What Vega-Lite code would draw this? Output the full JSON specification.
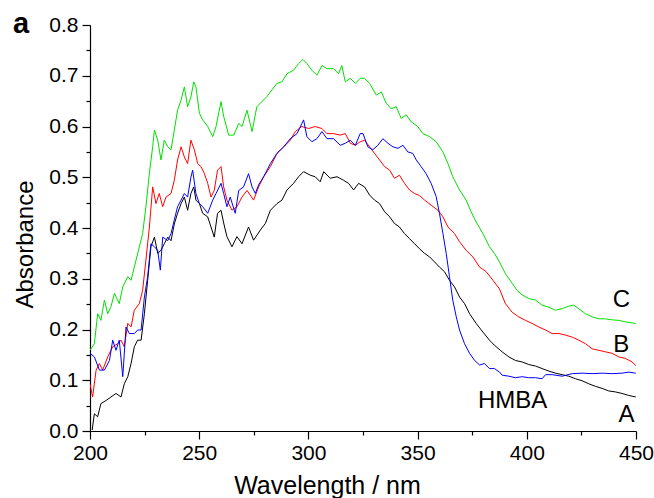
{
"$schema": "https://vega.github.io/schema/vega-lite/v6.json",
"width": 546, "height": 406,
"autosize": {"type": "none"},
"padding": {"left": 90, "top": 25, "right": 18, "bottom": 67},
"background": "white",
"config": {"view": {"stroke": null}, "font": "Liberation Sans"},
"title": {"text": "a", "anchor": "start", "frame": "group", "fontSize": 29, "fontWeight": "bold", "font": "Liberation Sans", "color": "#000", "baseline": "alphabetic", "dx": -77, "offset": -48},
"datasets": {
"spectra": [
{"s":"A","w":201.0,"a":0.002},{"s":"A","w":202.0,"a":0.034},{"s":"A","w":203.5,"a":0.028},{"s":"A","w":205.0,"a":0.054},{"s":"A","w":207.3,"a":0.060},{"s":"A","w":209.6,"a":0.067},{"s":"A","w":211.9,"a":0.074},{"s":"A","w":214.2,"a":0.067},{"s":"A","w":215.7,"a":0.093},{"s":"A","w":217.3,"a":0.107},{"s":"A","w":218.8,"a":0.133},{"s":"A","w":220.3,"a":0.166},{"s":"A","w":221.8,"a":0.179},{"s":"A","w":223.4,"a":0.179},{"s":"A","w":224.9,"a":0.231},{"s":"A","w":226.4,"a":0.297},{"s":"A","w":227.9,"a":0.363},{"s":"A","w":229.5,"a":0.382},{"s":"A","w":231.0,"a":0.350},{"s":"A","w":232.5,"a":0.356},{"s":"A","w":234.0,"a":0.369},{"s":"A","w":235.6,"a":0.382},{"s":"A","w":237.1,"a":0.375},{"s":"A","w":238.6,"a":0.408},{"s":"A","w":240.1,"a":0.429},{"s":"A","w":241.7,"a":0.448},{"s":"A","w":243.2,"a":0.461},{"s":"A","w":244.7,"a":0.435},{"s":"A","w":246.2,"a":0.468},{"s":"A","w":247.5,"a":0.481},{"s":"A","w":248.5,"a":0.455},{"s":"A","w":250.1,"a":0.448},{"s":"A","w":251.6,"a":0.429},{"s":"A","w":253.9,"a":0.422},{"s":"A","w":255.4,"a":0.402},{"s":"A","w":256.9,"a":0.382},{"s":"A","w":258.4,"a":0.429},{"s":"A","w":260.0,"a":0.435},{"s":"A","w":261.2,"a":0.410},{"s":"A","w":262.7,"a":0.383},{"s":"A","w":265.0,"a":0.363},{"s":"A","w":267.3,"a":0.383},{"s":"A","w":269.6,"a":0.369},{"s":"A","w":272.6,"a":0.402},{"s":"A","w":274.9,"a":0.376},{"s":"A","w":278.0,"a":0.396},{"s":"A","w":280.3,"a":0.409},{"s":"A","w":282.6,"a":0.435},{"s":"A","w":285.6,"a":0.448},{"s":"A","w":287.9,"a":0.455},{"s":"A","w":290.2,"a":0.475},{"s":"A","w":293.2,"a":0.488},{"s":"A","w":295.5,"a":0.501},{"s":"A","w":297.8,"a":0.511},{"s":"A","w":300.9,"a":0.504},{"s":"A","w":303.1,"a":0.501},{"s":"A","w":305.4,"a":0.491},{"s":"A","w":307.0,"a":0.511},{"s":"A","w":310.0,"a":0.498},{"s":"A","w":313.1,"a":0.501},{"s":"A","w":316.1,"a":0.494},{"s":"A","w":318.4,"a":0.488},{"s":"A","w":320.7,"a":0.475},{"s":"A","w":323.0,"a":0.488},{"s":"A","w":325.7,"a":0.481},{"s":"A","w":328.0,"a":0.465},{"s":"A","w":330.3,"a":0.455},{"s":"A","w":332.6,"a":0.448},{"s":"A","w":334.9,"a":0.432},{"s":"A","w":337.2,"a":0.422},{"s":"A","w":339.4,"a":0.409},{"s":"A","w":341.7,"a":0.402},{"s":"A","w":344.0,"a":0.389},{"s":"A","w":346.3,"a":0.379},{"s":"A","w":348.6,"a":0.369},{"s":"A","w":350.9,"a":0.359},{"s":"A","w":353.2,"a":0.350},{"s":"A","w":355.5,"a":0.343},{"s":"A","w":357.8,"a":0.333},{"s":"A","w":360.0,"a":0.323},{"s":"A","w":362.3,"a":0.314},{"s":"A","w":364.6,"a":0.297},{"s":"A","w":366.9,"a":0.284},{"s":"A","w":369.2,"a":0.264},{"s":"A","w":371.5,"a":0.251},{"s":"A","w":373.8,"a":0.231},{"s":"A","w":376.8,"a":0.212},{"s":"A","w":379.9,"a":0.195},{"s":"A","w":382.9,"a":0.179},{"s":"A","w":385.2,"a":0.169},{"s":"A","w":388.7,"a":0.156},{"s":"A","w":391.8,"a":0.146},{"s":"A","w":394.8,"a":0.139},{"s":"A","w":397.9,"a":0.136},{"s":"A","w":400.9,"a":0.131},{"s":"A","w":404.0,"a":0.128},{"s":"A","w":407.0,"a":0.123},{"s":"A","w":410.1,"a":0.118},{"s":"A","w":413.1,"a":0.114},{"s":"A","w":416.2,"a":0.111},{"s":"A","w":419.2,"a":0.108},{"s":"A","w":422.3,"a":0.103},{"s":"A","w":425.3,"a":0.099},{"s":"A","w":428.4,"a":0.093},{"s":"A","w":431.4,"a":0.088},{"s":"A","w":434.5,"a":0.084},{"s":"A","w":437.5,"a":0.079},{"s":"A","w":440.6,"a":0.077},{"s":"A","w":443.6,"a":0.074},{"s":"A","w":446.7,"a":0.070},{"s":"A","w":449.9,"a":0.067},
{"s":"B","w":200.0,"a":0.093},{"s":"B","w":201.2,"a":0.067},{"s":"B","w":202.8,"a":0.120},{"s":"B","w":204.3,"a":0.133},{"s":"B","w":205.8,"a":0.120},{"s":"B","w":208.1,"a":0.146},{"s":"B","w":210.4,"a":0.166},{"s":"B","w":212.7,"a":0.172},{"s":"B","w":214.2,"a":0.179},{"s":"B","w":215.7,"a":0.166},{"s":"B","w":217.3,"a":0.212},{"s":"B","w":218.8,"a":0.205},{"s":"B","w":220.3,"a":0.238},{"s":"B","w":222.6,"a":0.251},{"s":"B","w":224.1,"a":0.277},{"s":"B","w":225.6,"a":0.337},{"s":"B","w":227.2,"a":0.402},{"s":"B","w":228.7,"a":0.481},{"s":"B","w":230.2,"a":0.448},{"s":"B","w":231.7,"a":0.468},{"s":"B","w":233.3,"a":0.442},{"s":"B","w":234.8,"a":0.461},{"s":"B","w":237.1,"a":0.468},{"s":"B","w":238.6,"a":0.494},{"s":"B","w":240.1,"a":0.534},{"s":"B","w":241.7,"a":0.560},{"s":"B","w":243.2,"a":0.540},{"s":"B","w":244.7,"a":0.527},{"s":"B","w":246.2,"a":0.573},{"s":"B","w":247.8,"a":0.554},{"s":"B","w":249.3,"a":0.527},{"s":"B","w":250.8,"a":0.521},{"s":"B","w":252.3,"a":0.508},{"s":"B","w":253.9,"a":0.488},{"s":"B","w":255.4,"a":0.461},{"s":"B","w":256.9,"a":0.474},{"s":"B","w":258.4,"a":0.514},{"s":"B","w":260.0,"a":0.521},{"s":"B","w":261.2,"a":0.481},{"s":"B","w":262.7,"a":0.455},{"s":"B","w":265.0,"a":0.435},{"s":"B","w":267.3,"a":0.442},{"s":"B","w":269.6,"a":0.461},{"s":"B","w":271.9,"a":0.474},{"s":"B","w":274.9,"a":0.455},{"s":"B","w":277.2,"a":0.481},{"s":"B","w":279.5,"a":0.501},{"s":"B","w":282.6,"a":0.521},{"s":"B","w":285.6,"a":0.547},{"s":"B","w":288.7,"a":0.560},{"s":"B","w":291.7,"a":0.573},{"s":"B","w":294.0,"a":0.590},{"s":"B","w":297.0,"a":0.600},{"s":"B","w":300.1,"a":0.596},{"s":"B","w":303.1,"a":0.600},{"s":"B","w":306.2,"a":0.596},{"s":"B","w":308.5,"a":0.586},{"s":"B","w":311.5,"a":0.586},{"s":"B","w":314.6,"a":0.583},{"s":"B","w":316.9,"a":0.586},{"s":"B","w":319.2,"a":0.567},{"s":"B","w":321.5,"a":0.563},{"s":"B","w":323.7,"a":0.570},{"s":"B","w":325.7,"a":0.573},{"s":"B","w":328.0,"a":0.560},{"s":"B","w":330.3,"a":0.547},{"s":"B","w":332.6,"a":0.534},{"s":"B","w":334.9,"a":0.521},{"s":"B","w":337.2,"a":0.514},{"s":"B","w":339.4,"a":0.498},{"s":"B","w":341.7,"a":0.504},{"s":"B","w":344.0,"a":0.488},{"s":"B","w":346.3,"a":0.475},{"s":"B","w":348.6,"a":0.468},{"s":"B","w":350.9,"a":0.464},{"s":"B","w":353.2,"a":0.455},{"s":"B","w":356.2,"a":0.445},{"s":"B","w":359.3,"a":0.435},{"s":"B","w":361.6,"a":0.422},{"s":"B","w":363.9,"a":0.402},{"s":"B","w":366.9,"a":0.389},{"s":"B","w":369.2,"a":0.373},{"s":"B","w":372.2,"a":0.356},{"s":"B","w":375.3,"a":0.343},{"s":"B","w":378.4,"a":0.323},{"s":"B","w":381.4,"a":0.314},{"s":"B","w":384.5,"a":0.297},{"s":"B","w":387.5,"a":0.280},{"s":"B","w":390.2,"a":0.251},{"s":"B","w":393.3,"a":0.234},{"s":"B","w":396.3,"a":0.225},{"s":"B","w":399.4,"a":0.218},{"s":"B","w":402.4,"a":0.212},{"s":"B","w":405.5,"a":0.205},{"s":"B","w":408.6,"a":0.199},{"s":"B","w":411.6,"a":0.192},{"s":"B","w":414.7,"a":0.192},{"s":"B","w":417.7,"a":0.189},{"s":"B","w":420.8,"a":0.185},{"s":"B","w":423.8,"a":0.179},{"s":"B","w":426.9,"a":0.172},{"s":"B","w":429.9,"a":0.162},{"s":"B","w":433.0,"a":0.159},{"s":"B","w":436.0,"a":0.156},{"s":"B","w":439.1,"a":0.153},{"s":"B","w":442.1,"a":0.146},{"s":"B","w":445.2,"a":0.143},{"s":"B","w":448.2,"a":0.136},{"s":"B","w":449.9,"a":0.129},
{"s":"C","w":200.0,"a":0.159},{"s":"C","w":202.0,"a":0.172},{"s":"C","w":203.5,"a":0.231},{"s":"C","w":205.0,"a":0.218},{"s":"C","w":206.6,"a":0.258},{"s":"C","w":208.1,"a":0.231},{"s":"C","w":209.6,"a":0.245},{"s":"C","w":211.2,"a":0.271},{"s":"C","w":213.4,"a":0.251},{"s":"C","w":215.0,"a":0.284},{"s":"C","w":217.3,"a":0.304},{"s":"C","w":218.8,"a":0.297},{"s":"C","w":221.1,"a":0.337},{"s":"C","w":222.6,"a":0.363},{"s":"C","w":224.1,"a":0.389},{"s":"C","w":225.6,"a":0.442},{"s":"C","w":227.2,"a":0.508},{"s":"C","w":228.7,"a":0.560},{"s":"C","w":229.5,"a":0.593},{"s":"C","w":231.0,"a":0.573},{"s":"C","w":232.5,"a":0.534},{"s":"C","w":234.0,"a":0.573},{"s":"C","w":235.6,"a":0.560},{"s":"C","w":237.1,"a":0.554},{"s":"C","w":238.6,"a":0.593},{"s":"C","w":240.1,"a":0.632},{"s":"C","w":241.7,"a":0.652},{"s":"C","w":243.2,"a":0.678},{"s":"C","w":244.7,"a":0.639},{"s":"C","w":246.2,"a":0.658},{"s":"C","w":247.5,"a":0.688},{"s":"C","w":248.5,"a":0.678},{"s":"C","w":250.1,"a":0.626},{"s":"C","w":251.6,"a":0.613},{"s":"C","w":253.9,"a":0.600},{"s":"C","w":256.2,"a":0.580},{"s":"C","w":257.7,"a":0.600},{"s":"C","w":260.0,"a":0.649},{"s":"C","w":261.2,"a":0.620},{"s":"C","w":263.5,"a":0.583},{"s":"C","w":265.8,"a":0.583},{"s":"C","w":268.1,"a":0.606},{"s":"C","w":269.6,"a":0.600},{"s":"C","w":271.9,"a":0.632},{"s":"C","w":274.2,"a":0.590},{"s":"C","w":276.4,"a":0.639},{"s":"C","w":278.0,"a":0.646},{"s":"C","w":281.0,"a":0.659},{"s":"C","w":283.3,"a":0.672},{"s":"C","w":285.6,"a":0.685},{"s":"C","w":287.9,"a":0.688},{"s":"C","w":290.2,"a":0.704},{"s":"C","w":293.2,"a":0.711},{"s":"C","w":295.5,"a":0.724},{"s":"C","w":297.5,"a":0.732},{"s":"C","w":299.3,"a":0.724},{"s":"C","w":301.6,"a":0.711},{"s":"C","w":303.9,"a":0.701},{"s":"C","w":306.2,"a":0.720},{"s":"C","w":308.5,"a":0.714},{"s":"C","w":311.5,"a":0.714},{"s":"C","w":313.8,"a":0.704},{"s":"C","w":315.3,"a":0.720},{"s":"C","w":316.9,"a":0.688},{"s":"C","w":319.2,"a":0.695},{"s":"C","w":321.5,"a":0.685},{"s":"C","w":323.7,"a":0.695},{"s":"C","w":325.7,"a":0.695},{"s":"C","w":328.0,"a":0.685},{"s":"C","w":331.1,"a":0.662},{"s":"C","w":333.4,"a":0.668},{"s":"C","w":335.6,"a":0.646},{"s":"C","w":337.9,"a":0.635},{"s":"C","w":340.2,"a":0.639},{"s":"C","w":342.5,"a":0.616},{"s":"C","w":344.8,"a":0.623},{"s":"C","w":347.1,"a":0.609},{"s":"C","w":350.1,"a":0.600},{"s":"C","w":352.4,"a":0.586},{"s":"C","w":355.5,"a":0.580},{"s":"C","w":358.5,"a":0.570},{"s":"C","w":361.6,"a":0.550},{"s":"C","w":363.9,"a":0.527},{"s":"C","w":366.1,"a":0.501},{"s":"C","w":369.2,"a":0.475},{"s":"C","w":372.2,"a":0.455},{"s":"C","w":374.5,"a":0.432},{"s":"C","w":376.8,"a":0.412},{"s":"C","w":379.9,"a":0.389},{"s":"C","w":382.9,"a":0.363},{"s":"C","w":385.2,"a":0.350},{"s":"C","w":387.5,"a":0.333},{"s":"C","w":390.2,"a":0.310},{"s":"C","w":393.3,"a":0.291},{"s":"C","w":395.6,"a":0.277},{"s":"C","w":397.9,"a":0.268},{"s":"C","w":400.9,"a":0.261},{"s":"C","w":404.0,"a":0.258},{"s":"C","w":407.0,"a":0.248},{"s":"C","w":410.1,"a":0.244},{"s":"C","w":413.1,"a":0.238},{"s":"C","w":416.2,"a":0.241},{"s":"C","w":419.2,"a":0.246},{"s":"C","w":421.5,"a":0.248},{"s":"C","w":423.8,"a":0.241},{"s":"C","w":426.9,"a":0.231},{"s":"C","w":429.9,"a":0.225},{"s":"C","w":433.0,"a":0.221},{"s":"C","w":436.0,"a":0.221},{"s":"C","w":439.1,"a":0.219},{"s":"C","w":442.1,"a":0.218},{"s":"C","w":445.2,"a":0.215},{"s":"C","w":448.2,"a":0.213},{"s":"C","w":449.9,"a":0.212},
{"s":"HMBA","w":200.0,"a":0.153},{"s":"HMBA","w":202.0,"a":0.146},{"s":"HMBA","w":204.3,"a":0.120},{"s":"HMBA","w":206.6,"a":0.120},{"s":"HMBA","w":208.9,"a":0.139},{"s":"HMBA","w":210.4,"a":0.179},{"s":"HMBA","w":211.9,"a":0.159},{"s":"HMBA","w":213.4,"a":0.179},{"s":"HMBA","w":215.0,"a":0.107},{"s":"HMBA","w":216.5,"a":0.205},{"s":"HMBA","w":218.0,"a":0.192},{"s":"HMBA","w":220.3,"a":0.192},{"s":"HMBA","w":221.8,"a":0.199},{"s":"HMBA","w":223.4,"a":0.199},{"s":"HMBA","w":224.9,"a":0.264},{"s":"HMBA","w":226.4,"a":0.304},{"s":"HMBA","w":227.9,"a":0.369},{"s":"HMBA","w":229.5,"a":0.363},{"s":"HMBA","w":231.0,"a":0.356},{"s":"HMBA","w":232.2,"a":0.317},{"s":"HMBA","w":233.3,"a":0.382},{"s":"HMBA","w":235.6,"a":0.375},{"s":"HMBA","w":237.1,"a":0.389},{"s":"HMBA","w":238.6,"a":0.416},{"s":"HMBA","w":240.1,"a":0.442},{"s":"HMBA","w":241.7,"a":0.455},{"s":"HMBA","w":243.2,"a":0.468},{"s":"HMBA","w":244.7,"a":0.461},{"s":"HMBA","w":246.2,"a":0.500},{"s":"HMBA","w":247.0,"a":0.514},{"s":"HMBA","w":248.5,"a":0.468},{"s":"HMBA","w":250.1,"a":0.448},{"s":"HMBA","w":251.6,"a":0.442},{"s":"HMBA","w":253.9,"a":0.429},{"s":"HMBA","w":256.2,"a":0.455},{"s":"HMBA","w":257.7,"a":0.468},{"s":"HMBA","w":260.0,"a":0.488},{"s":"HMBA","w":261.2,"a":0.468},{"s":"HMBA","w":262.7,"a":0.442},{"s":"HMBA","w":264.2,"a":0.461},{"s":"HMBA","w":266.5,"a":0.429},{"s":"HMBA","w":268.1,"a":0.474},{"s":"HMBA","w":270.3,"a":0.481},{"s":"HMBA","w":272.6,"a":0.507},{"s":"HMBA","w":274.2,"a":0.481},{"s":"HMBA","w":275.7,"a":0.468},{"s":"HMBA","w":277.2,"a":0.485},{"s":"HMBA","w":279.5,"a":0.501},{"s":"HMBA","w":282.6,"a":0.527},{"s":"HMBA","w":285.6,"a":0.547},{"s":"HMBA","w":288.7,"a":0.560},{"s":"HMBA","w":291.7,"a":0.576},{"s":"HMBA","w":294.8,"a":0.586},{"s":"HMBA","w":297.8,"a":0.613},{"s":"HMBA","w":299.3,"a":0.580},{"s":"HMBA","w":301.6,"a":0.570},{"s":"HMBA","w":303.9,"a":0.576},{"s":"HMBA","w":306.2,"a":0.590},{"s":"HMBA","w":308.5,"a":0.576},{"s":"HMBA","w":311.5,"a":0.576},{"s":"HMBA","w":314.6,"a":0.563},{"s":"HMBA","w":316.9,"a":0.567},{"s":"HMBA","w":319.2,"a":0.573},{"s":"HMBA","w":321.5,"a":0.563},{"s":"HMBA","w":323.7,"a":0.586},{"s":"HMBA","w":325.0,"a":0.586},{"s":"HMBA","w":327.2,"a":0.560},{"s":"HMBA","w":329.5,"a":0.554},{"s":"HMBA","w":331.8,"a":0.563},{"s":"HMBA","w":334.1,"a":0.576},{"s":"HMBA","w":336.4,"a":0.567},{"s":"HMBA","w":338.7,"a":0.560},{"s":"HMBA","w":341.0,"a":0.557},{"s":"HMBA","w":343.3,"a":0.563},{"s":"HMBA","w":345.5,"a":0.550},{"s":"HMBA","w":347.8,"a":0.547},{"s":"HMBA","w":349.4,"a":0.534},{"s":"HMBA","w":351.6,"a":0.521},{"s":"HMBA","w":353.9,"a":0.507},{"s":"HMBA","w":356.2,"a":0.488},{"s":"HMBA","w":358.5,"a":0.462},{"s":"HMBA","w":360.0,"a":0.429},{"s":"HMBA","w":361.6,"a":0.389},{"s":"HMBA","w":363.1,"a":0.350},{"s":"HMBA","w":364.6,"a":0.304},{"s":"HMBA","w":366.1,"a":0.258},{"s":"HMBA","w":367.7,"a":0.225},{"s":"HMBA","w":369.2,"a":0.199},{"s":"HMBA","w":371.5,"a":0.172},{"s":"HMBA","w":373.8,"a":0.153},{"s":"HMBA","w":376.1,"a":0.139},{"s":"HMBA","w":378.4,"a":0.130},{"s":"HMBA","w":380.6,"a":0.133},{"s":"HMBA","w":382.9,"a":0.123},{"s":"HMBA","w":385.2,"a":0.123},{"s":"HMBA","w":387.5,"a":0.116},{"s":"HMBA","w":388.7,"a":0.110},{"s":"HMBA","w":391.8,"a":0.108},{"s":"HMBA","w":394.8,"a":0.105},{"s":"HMBA","w":397.9,"a":0.107},{"s":"HMBA","w":400.9,"a":0.105},{"s":"HMBA","w":404.0,"a":0.105},{"s":"HMBA","w":407.0,"a":0.103},{"s":"HMBA","w":408.6,"a":0.111},{"s":"HMBA","w":411.6,"a":0.111},{"s":"HMBA","w":416.2,"a":0.108},{"s":"HMBA","w":420.8,"a":0.113},{"s":"HMBA","w":425.3,"a":0.114},{"s":"HMBA","w":429.9,"a":0.113},{"s":"HMBA","w":434.5,"a":0.114},{"s":"HMBA","w":439.1,"a":0.113},{"s":"HMBA","w":443.6,"a":0.114},{"s":"HMBA","w":446.7,"a":0.116},{"s":"HMBA","w":449.9,"a":0.114}
],
"labels": [
{"t":"C","w":443.3,"a":0.258},
{"t":"B","w":443.3,"a":0.169},
{"t":"A","w":445.6,"a":0.032},
{"t":"HMBA","w":393.5,"a":0.060}
]
},
"layer": [
{
"data": {"name": "spectra"},
"mark": {"type": "line", "strokeWidth": 1, "clip": true},
"encoding": {
"x": {"field": "w", "type": "quantitative", "scale": {"domain": [200, 450], "nice": false, "zero": false},
"axis": {"orient": "bottom", "values": [200, 250, 300, 350, 400, 450], "grid": false, "tickSize": 8, "tickWidth": 1.2, "domainWidth": 1.2, "domainColor": "#000", "tickColor": "#000", "labelColor": "#000", "labelFont": "Liberation Sans", "labelFontSize": 21, "labelPadding": 3, "labelFlush": false, "labelOverlap": false, "title": "Wavelength / nm", "titleFont": "Liberation Sans", "titleFontSize": 25, "titleFontWeight": "normal", "titleColor": "#000", "titleX": 237, "titleY": 62, "titleBaseline": "alphabetic"}},
"y": {"field": "a", "type": "quantitative", "scale": {"domain": [0, 0.8], "nice": false},
"axis": {"orient": "left", "values": [0, 0.1, 0.2, 0.3, 0.4, 0.5, 0.6, 0.7, 0.8], "format": ".1f", "grid": false, "tickSize": 8, "tickWidth": 1.2, "domainWidth": 1.2, "domainColor": "#000", "tickColor": "#000", "labelColor": "#000", "labelFont": "Liberation Sans", "labelFontSize": 21, "labelPadding": 4, "labelFlush": false, "labelOverlap": false, "title": "Absorbance", "titleFont": "Liberation Sans", "titleFontSize": 24, "titleFontWeight": "normal", "titleColor": "#000", "titleX": -58, "titleY": 219, "titleBaseline": "alphabetic"}},
"color": {"field": "s", "type": "nominal", "scale": {"domain": ["A", "B", "HMBA", "C"], "range": ["#000000", "#ff0000", "#0000ff", "#00e000"]}, "legend": null}
}
},
{
"data": {"name": "labels"},
"mark": {"type": "text", "fontSize": 24, "font": "Liberation Sans", "color": "#000", "align": "center", "baseline": "middle"},
"encoding": {
"x": {"field": "w", "type": "quantitative", "axis": {"orient": "bottom", "values": [225, 275, 325, 375, 425], "labels": false, "domain": false, "grid": false, "tickSize": 4, "tickWidth": 1.2, "tickColor": "#000", "title": null}},
"y": {"field": "a", "type": "quantitative", "axis": {"orient": "left", "values": [0.05, 0.15, 0.25, 0.35, 0.45, 0.55, 0.65, 0.75], "labels": false, "domain": false, "grid": false, "tickSize": 4, "tickWidth": 1.2, "tickColor": "#000", "title": null}},
"text": {"field": "t"}
}
}
],
"resolve": {"axis": {"x": "independent", "y": "independent"}}
}
